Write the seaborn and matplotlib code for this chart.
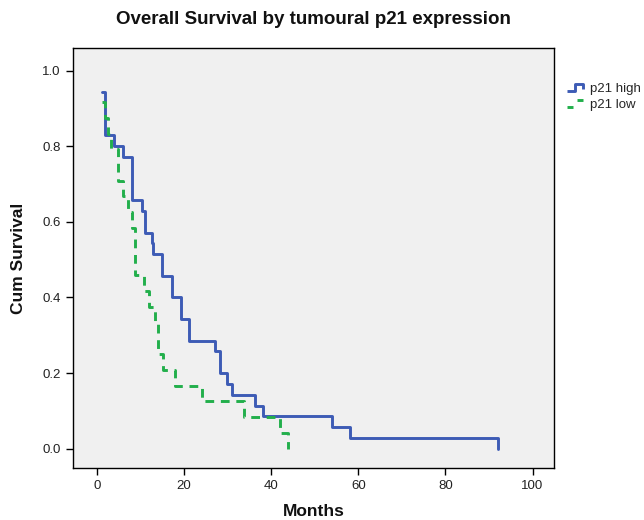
import matplotlib
matplotlib.use("Agg")
import matplotlib.pyplot as plt
import seaborn as sns
import pandas as pd
from matplotlib.lines import Line2D
from matplotlib.legend_handler import HandlerLine2D
from matplotlib.ticker import FormatStrFormatter

# ---- data ----
title = "Overall Survival by tumoural p21 expression"
groups = ["p21 high", "p21 low"]

high_months = [1.15, 1.9, 3.9, 6.0, 8.05, 10.4, 11.0, 12.5, 12.9, 15.0, 17.1,
               19.2, 21.1, 27.0, 28.2, 29.9, 31.0, 36.2, 38.1, 54.0, 58.0, 92.1]
high_surv = [0.943, 0.829, 0.800, 0.771, 0.657, 0.629, 0.571, 0.543, 0.514,
             0.457, 0.400, 0.343, 0.286, 0.257, 0.200, 0.171, 0.143, 0.114,
             0.086, 0.057, 0.029, 0.0]

low_months = [1.15, 1.9, 2.6, 3.3, 4.8, 6.0, 7.0, 8.0, 8.8, 10.8, 12.0, 13.2,
              14.0, 15.2, 17.8, 24.0, 33.8, 42.0, 43.9]
low_surv = [0.917, 0.875, 0.833, 0.792, 0.708, 0.667, 0.625, 0.583, 0.458,
            0.417, 0.375, 0.333, 0.250, 0.208, 0.167, 0.125, 0.083, 0.042, 0.0]

x_ticks = [0, 20, 40, 60, 80, 100]
y_ticks = [0.0, 0.2, 0.4, 0.6, 0.8, 1.0]

df = pd.concat([
    pd.DataFrame({"Months": high_months, "Cum Survival": high_surv, "group": groups[0]}),
    pd.DataFrame({"Months": low_months, "Cum Survival": low_surv, "group": groups[1]}),
], ignore_index=True)

# ---- style ----
sns.set_theme(style="ticks")
plt.rcParams["font.family"] = ["Liberation Sans", "DejaVu Sans"]

blue = "#3D5BB5"
green = "#22AF4B"
palette = {groups[0]: blue, groups[1]: green}
dashes = {groups[0]: "", groups[1]: (3.0, 2.3)}

fig = plt.figure(figsize=(6.44, 5.2), dpi=100)
ax = fig.add_axes([72.7 / 644, 1 - 468.3 / 520, (554.3 - 72.7) / 644, (468.3 - 47.9) / 520])
ax.set_facecolor("#F0F0F0")

sns.lineplot(data=df, x="Months", y="Cum Survival", hue="group", style="group",
             palette=palette, dashes=dashes, estimator=None, sort=False,
             drawstyle="steps-post", linewidth=2.1, legend=False, ax=ax)

ax.set_xlim(-5.6, 105.0)
ax.set_ylim(-0.052, 1.06)
ax.set_xticks(x_ticks)
ax.set_yticks(y_ticks)
ax.yaxis.set_major_formatter(FormatStrFormatter("%.1f"))
ax.tick_params(direction="out", length=5, width=1, color="black",
               labelsize=9.5, labelcolor="#222222")
for s in ax.spines.values():
    s.set_color("black")
    s.set_linewidth(1.0)

ax.set_xlabel("Months", fontsize=12.5, fontweight="bold", color="#111111")
ax.set_ylabel("Cum Survival", fontsize=12.5, fontweight="bold", color="#111111")
ax.xaxis.label.set_va("center")
ax.xaxis.set_label_coords(0.5, (468.3 - 512) / 420.4)
ax.yaxis.label.set_va("center")
ax.yaxis.set_label_coords((18 - 72.7) / 481.6, 0.5)

fig.text(313.5 / 644, 1 - 19 / 520, title, ha="center", va="center",
         fontsize=13.5, fontweight="bold", color="#111111")


class StepHandler(HandlerLine2D):
    def create_artists(self, legend, orig_handle, xdescent, ydescent,
                       width, height, fontsize, trans):
        x0, y0 = -xdescent, -ydescent
        if orig_handle.get_linestyle() in ("-", "solid"):
            xs = [x0, x0 + 0.5 * width, x0 + 0.5 * width, x0 + width, x0 + width]
            ys = [y0 + 0.15 * height, y0 + 0.15 * height, y0 + 0.85 * height,
                  y0 + 0.85 * height, y0 + 0.35 * height]
            arts = [Line2D(xs, ys)]
        else:
            arts = [Line2D([x0, x0 + 0.4 * width], [y0 + 0.15 * height] * 2),
                    Line2D([x0 + 0.6 * width, x0 + width], [y0 + 0.85 * height] * 2)]
        for a in arts:
            a.set_color(orig_handle.get_color())
            a.set_linewidth(orig_handle.get_linewidth())
            a.set_solid_capstyle("butt")
            a.set_transform(trans)
        return arts


handles = [Line2D([], [], color=blue, lw=2.1, ls="-"),
           Line2D([], [], color=green, lw=2.1, ls="--")]
fig.legend(handles, groups, loc="upper left",
           bbox_to_anchor=(567 / 644, 1 - 82 / 520), frameon=False,
           handler_map={Line2D: StepHandler()}, fontsize=9.5,
           handlelength=1.2, handleheight=0.8, handletextpad=0.55,
           labelspacing=0.3, borderpad=0, borderaxespad=0)

fig.savefig("out.png", dpi=100, facecolor="white")
